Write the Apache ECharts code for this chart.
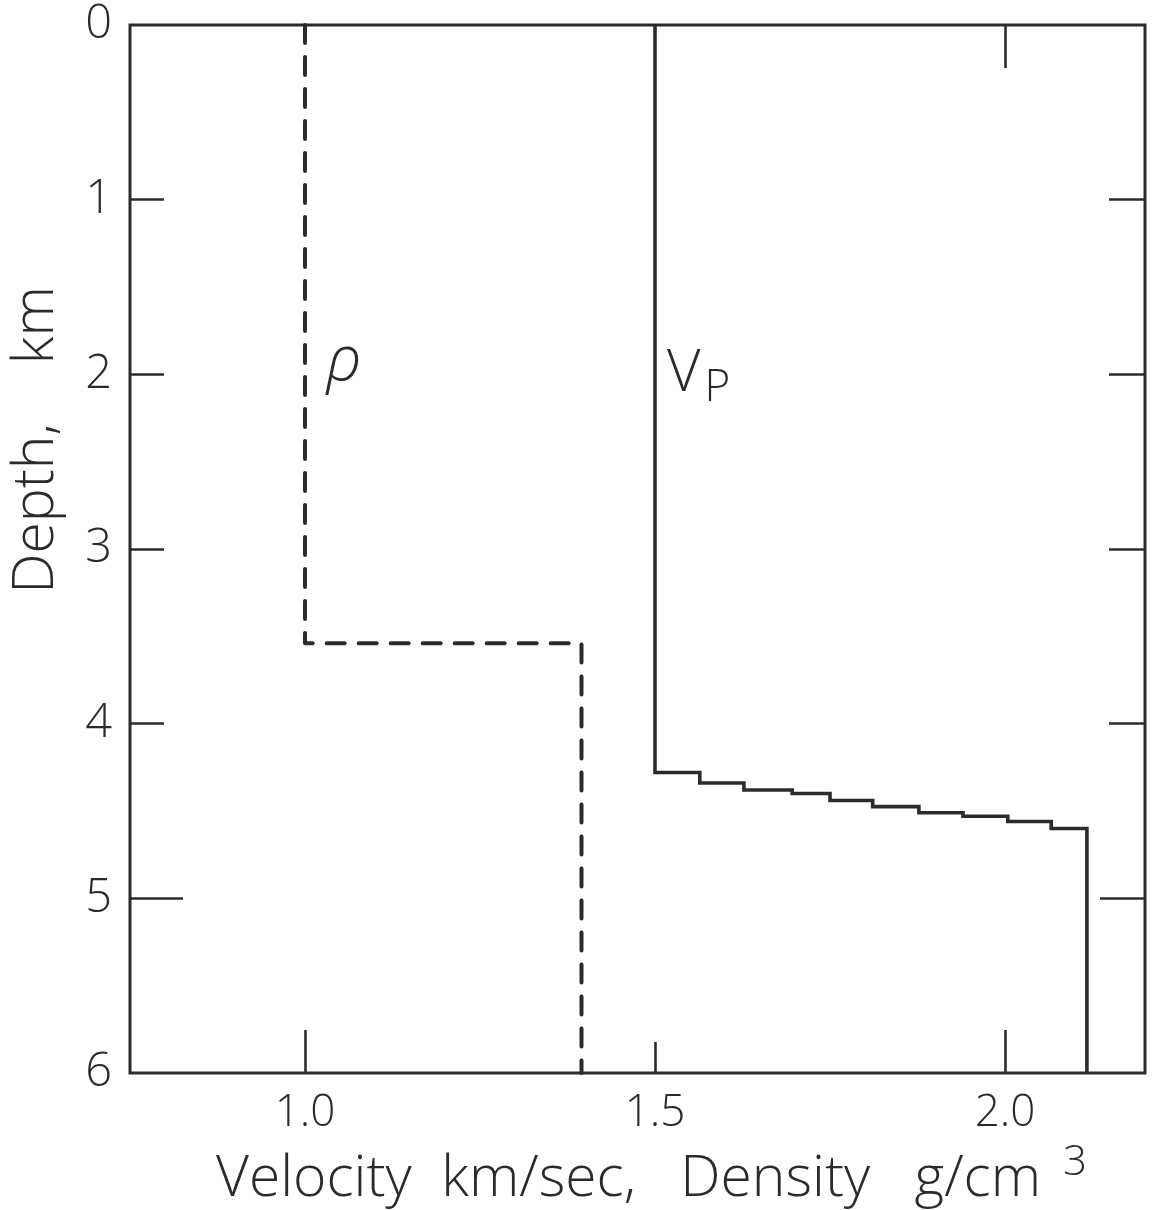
<!DOCTYPE html>
<html>
<head>
<meta charset="utf-8">
<title>Velocity and density profile</title>
<script src="https://cdn.jsdelivr.net/npm/echarts@6/dist/echarts.min.js"></script>
<style>
  html, body { margin: 0; padding: 0; background: #ffffff; }
  #chart { width: 1152px; height: 1210px; }
</style>
</head>
<body>
<div id="chart"></div>
<script>
// Depth axis (km) and velocity/density axis tick labels
const depthTicks = [0, 1, 2, 3, 4, 5, 6];
const xTickLabels = [1.0, 1.5, 2.0];

// P-wave velocity (km/sec) of each layer and the depth (km) of each layer top
const vpVelocity = [1.5, 1.564, 1.627, 1.696, 1.75, 1.811, 1.877, 1.94, 2.004, 2.066, 2.117];
const vpTops     = [0, 4.28, 4.34, 4.38, 4.40, 4.44, 4.475, 4.51, 4.53, 4.56, 4.60];

// Density (g/cm^3) of each layer and the depth (km) of each layer top
const rhoDensity = [1.0, 1.395];
const rhoTops    = [0, 3.54];

// Bottom of the model (km)
const modelBase = 6;

const INK = '#2b2b2b';
const FONT = '"Open Sans", "DejaVu Sans", sans-serif';

// Turn layer values into a staircase of [value, depth] vertices
function stepProfile(values, tops, base) {
  const pts = [];
  for (let i = 0; i < values.length; i++) {
    const bottom = i + 1 < tops.length ? tops[i + 1] : base;
    pts.push([values[i], tops[i]]);
    pts.push([values[i], bottom]);
  }
  return pts;
}

const chart = echarts.init(document.getElementById('chart'), null, { renderer: 'canvas' });

const tickStyle = { color: INK, width: 2.6 };
const xRange = { type: 'value', min: 0.75, max: 2.2 };
const yRange = { type: 'value', min: 0, max: modelBase, inverse: true, interval: 1 };
const plotRect = { left: 130, right: 7, top: 25, bottom: 137 };

// Axis with only inward ticks at the given values (hand-drawn ticks vary in length)
function tickAxis(base, gridIndex, position, values, length, label) {
  return Object.assign({}, base, {
    gridIndex, position,
    axisLine: { show: false, onZero: false },
    splitLine: { show: false },
    axisTick: { show: true, inside: true, length, customValues: values, lineStyle: tickStyle },
    axisLabel: label || { show: false }
  });
}

chart.setOption({
  backgroundColor: '#ffffff',
  animation: false,
  grid: [
    Object.assign({ show: true, borderWidth: 3, borderColor: INK, backgroundColor: 'transparent' }, plotRect),
    Object.assign({ show: false }, plotRect)
  ],
  xAxis: [
    tickAxis(xRange, 0, 'bottom', [1.0, 2.0], 43, {
      customValues: xTickLabels, formatter: v => v.toFixed(1),
      color: INK, fontFamily: FONT, fontWeight: 300, fontSize: 44, margin: 18
    }),
    tickAxis(xRange, 0, 'top', [2.0], 43),
    tickAxis(xRange, 1, 'bottom', [1.5], 31)
  ],
  yAxis: [
    tickAxis(yRange, 0, 'left', [1, 2, 3, 4], 34, {
      customValues: depthTicks, formatter: v => String(v),
      color: INK, fontFamily: FONT, fontWeight: 300, fontSize: 47, margin: 18
    }),
    tickAxis(yRange, 0, 'right', [1, 2, 3, 4], 36),
    tickAxis(yRange, 1, 'left', [5], 53),
    tickAxis(yRange, 1, 'right', [5], 45)
  ],
  series: [
    {
      name: 'Vp', type: 'line', xAxisIndex: 0, yAxisIndex: 0,
      data: stepProfile(vpVelocity, vpTops, modelBase),
      showSymbol: false, symbol: 'none',
      lineStyle: { color: INK, width: 3.6, join: 'miter' }
    },
    {
      name: 'rho', type: 'line', xAxisIndex: 0, yAxisIndex: 0,
      data: stepProfile(rhoDensity, rhoTops, modelBase),
      showSymbol: false, symbol: 'none',
      lineStyle: { color: INK, width: 4, type: [18, 14], cap: 'round', join: 'round' }
    }
  ],
  graphic: [
    {
      type: 'text', x: 216, y: 1218,
      style: {
        text: '{t|Velocity  km/sec,   Density   g/cm}{s|3}',
        align: 'left', verticalAlign: 'bottom',
        rich: {
          t: { fontFamily: FONT, fontWeight: 300, fontSize: 57, fill: INK },
          s: { fontFamily: FONT, fontWeight: 300, fontSize: 42, fill: INK, verticalAlign: 'top', padding: [0, 0, 34, 22] }
        }
      }
    },
    {
      type: 'text', x: 37, y: 440, rotation: Math.PI / 2,
      style: {
        text: 'Depth,    km', fontFamily: FONT, fontWeight: 300, fontSize: 57, fill: INK,
        align: 'center', verticalAlign: 'middle'
      }
    },
    {
      type: 'text', x: 344, y: 362,
      style: {
        text: 'ρ', fontFamily: FONT, fontStyle: 'italic', fontWeight: 300, fontSize: 62, fill: INK,
        align: 'center', verticalAlign: 'middle'
      }
    },
    {
      type: 'text', x: 667, y: 338,
      style: {
        text: '{v|V}{p|P}',
        rich: {
          v: { fontFamily: FONT, fontWeight: 300, fontSize: 58, fill: INK },
          p: { fontFamily: FONT, fontWeight: 300, fontSize: 44, fill: INK, padding: [28, 0, 0, 4] }
        }
      }
    }
  ]
});
</script>
</body>
</html>
